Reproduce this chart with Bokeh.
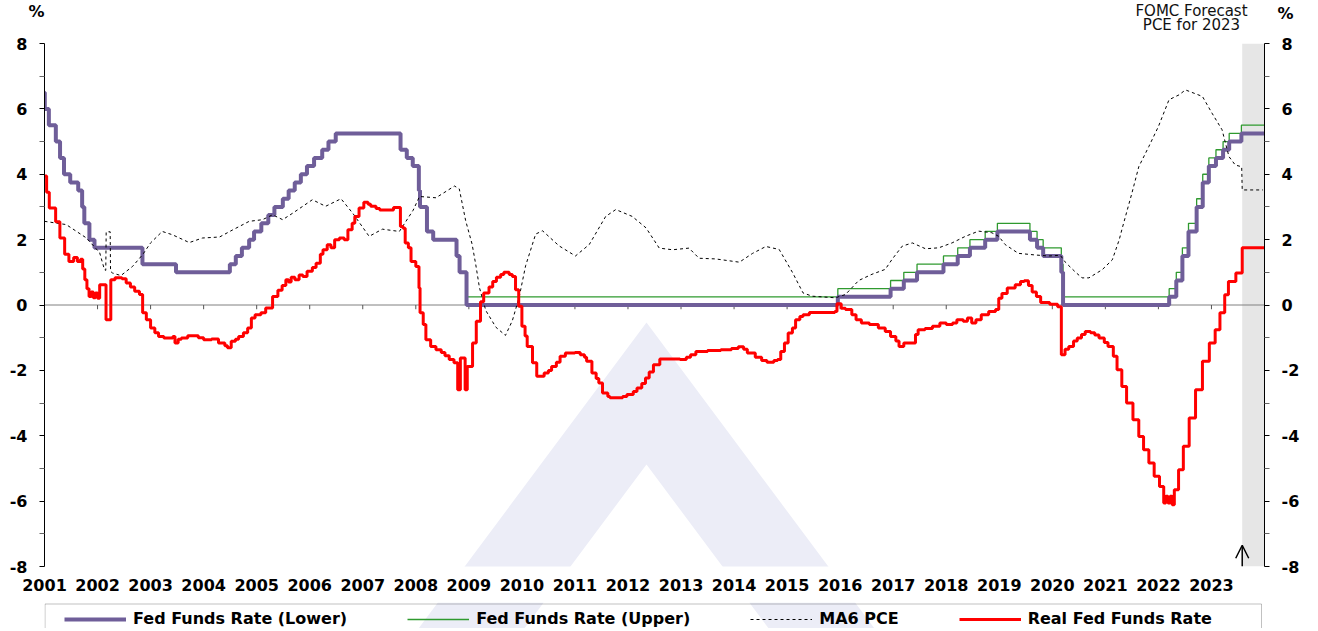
import pandas as pd
from bokeh.plotting import figure
from bokeh.layouts import column
from bokeh.models import (Range1d, FixedTicker, LinearAxis, Legend, LegendItem, Span,
                          BoxAnnotation, PolyAnnotation, Label, Arrow, OpenHead)
from bokeh.embed import file_html
from bokeh.resources import INLINE

# ---------------- data ----------------
FFR_DATES = ["2001-01-01", "2001-01-03", "2001-01-31", "2001-03-20", "2001-04-18", "2001-05-15",
             "2001-06-27", "2001-08-21", "2001-09-17", "2001-10-02", "2001-11-06", "2001-12-11",
             "2002-11-06", "2003-06-25", "2004-06-30", "2004-08-10", "2004-09-21", "2004-11-10",
             "2004-12-14", "2005-02-02", "2005-03-22", "2005-05-03", "2005-06-30", "2005-08-09",
             "2005-09-20", "2005-11-01", "2005-12-13", "2006-01-31", "2006-03-28", "2006-05-10",
             "2006-06-29", "2007-09-18", "2007-10-31", "2007-12-11", "2008-01-22", "2008-01-30",
             "2008-03-18", "2008-04-30", "2008-10-08", "2008-10-29", "2008-12-16", "2015-12-16",
             "2016-12-14", "2017-03-15", "2017-06-14", "2017-12-13", "2018-03-21", "2018-06-13",
             "2018-09-26", "2018-12-19", "2019-07-31", "2019-09-18", "2019-10-30", "2020-03-03",
             "2020-03-15", "2022-03-16", "2022-05-04", "2022-06-15", "2022-07-27", "2022-09-21",
             "2022-11-02", "2022-12-14", "2023-02-01", "2023-03-22", "2023-05-03", "2023-07-26"]
FFR_LOWER = [6.5, 6.0, 5.5, 5.0, 4.5, 4.0, 3.75, 3.5, 3.0, 2.5, 2.0, 1.75,
             1.25, 1.0, 1.25, 1.5, 1.75, 2.0, 2.25, 2.5, 2.75, 3.0, 3.25, 3.5,
             3.75, 4.0, 4.25, 4.5, 4.75, 5.0, 5.25, 4.75, 4.5, 4.25, 3.5, 3.0,
             2.25, 2.0, 1.5, 1.0, 0.0, 0.25, 0.5, 0.75, 1.0, 1.25, 1.5, 1.75,
             2.0, 2.25, 2.0, 1.75, 1.5, 1.0, 0.0, 0.25, 0.75, 1.5, 2.25, 3.0,
             3.75, 4.25, 4.5, 4.75, 5.0, 5.25]
FFR_UPPER = [6.5, 6.0, 5.5, 5.0, 4.5, 4.0, 3.75, 3.5, 3.0, 2.5, 2.0, 1.75,
             1.25, 1.0, 1.25, 1.5, 1.75, 2.0, 2.25, 2.5, 2.75, 3.0, 3.25, 3.5,
             3.75, 4.0, 4.25, 4.5, 4.75, 5.0, 5.25, 4.75, 4.5, 4.25, 3.5, 3.0,
             2.25, 2.0, 1.5, 1.0, 0.25, 0.5, 0.75, 1.0, 1.25, 1.5, 1.75, 2.0,
             2.25, 2.5, 2.25, 2.0, 1.75, 1.25, 0.25, 0.5, 1.0, 1.75, 2.5, 3.25,
             4.0, 4.5, 4.75, 5.0, 5.25, 5.5]

PCE_X = [2001.00, 2001.41, 2001.79, 2002.04, 2002.13, 2002.155, 2002.163, 2002.238, 2002.245,
         2002.28, 2002.44, 2002.66, 2002.85, 2003.00, 2003.22, 2003.41, 2003.73, 2003.98,
         2004.30, 2004.55, 2004.86, 2005.11, 2005.30, 2005.49, 2005.68, 2006.05, 2006.30,
         2006.59, 2006.81, 2007.12, 2007.37, 2007.69, 2007.95, 2008.07, 2008.38, 2008.73,
         2008.82, 2008.94, 2009.06, 2009.13, 2009.20, 2009.32, 2009.51, 2009.69, 2009.82,
         2009.95, 2010.07, 2010.26, 2010.39, 2010.70, 2011.01, 2011.27, 2011.58, 2011.77,
         2012.08, 2012.34, 2012.59, 2012.84, 2013.15, 2013.34, 2013.65, 2014.10, 2014.35,
         2014.60, 2014.85, 2015.10, 2015.30, 2015.47, 2015.91, 2016.10, 2016.35, 2016.60,
         2016.85, 2016.98, 2017.17, 2017.36, 2017.61, 2017.86, 2018.11, 2018.36, 2018.61,
         2018.86, 2018.99, 2019.11, 2019.36, 2019.68, 2019.93, 2020.15, 2020.25, 2020.44,
         2020.56, 2020.69, 2020.94, 2021.13, 2021.26, 2021.31, 2021.50, 2021.63, 2021.82,
         2022.00, 2022.20, 2022.39, 2022.51, 2022.83, 2023.01, 2023.20, 2023.33, 2023.45,
         2023.57, 2023.58, 2023.97]
PCE_V = [2.56, 2.46, 2.05, 1.60, 1.08, 1.06, 2.24, 2.24, 1.03,
         0.98, 0.90, 1.18, 1.54, 1.90, 2.25, 2.15, 1.91, 2.05,
         2.08, 2.30, 2.56, 2.61, 2.76, 2.61, 2.81, 3.22, 3.02,
         3.25, 2.81, 2.10, 2.32, 2.25, 2.90, 3.32, 3.28, 3.64,
         3.55, 2.58, 1.87, 1.24, 0.53, -0.17, -0.68, -0.93, -0.48,
         0.25, 1.20, 2.17, 2.27, 1.81, 1.50, 1.85, 2.71, 2.92,
         2.71, 2.36, 1.74, 1.69, 1.74, 1.43, 1.41, 1.31, 1.58,
         1.79, 1.70, 1.00, 0.37, 0.27, 0.22, 0.32, 0.75, 0.94,
         1.09, 1.40, 1.80, 1.90, 1.72, 1.75, 1.90, 2.10, 2.26,
         2.21, 2.10, 1.85, 1.58, 1.53, 1.50, 1.52, 1.30, 1.00,
         0.83, 0.83, 1.08, 1.38, 1.99, 2.30, 3.42, 4.23, 4.85,
         5.46, 6.28, 6.43, 6.58, 6.38, 5.87, 5.36, 4.54, 4.28,
         4.23, 3.52, 3.52]

REAL_X = [2001.00, 2001.04, 2001.09, 2001.21, 2001.29, 2001.38, 2001.46, 2001.55, 2001.62, 2001.68,
          2001.72, 2001.76, 2001.80, 2001.84, 2001.88, 2001.92, 2001.96, 2002.00, 2002.04, 2002.16,
          2002.25, 2002.33, 2002.46, 2002.54, 2002.62, 2002.70, 2002.79, 2002.85, 2002.92, 2003.00,
          2003.08, 2003.15, 2003.25, 2003.42, 2003.46, 2003.52, 2003.58, 2003.70, 2003.90, 2004.00,
          2004.15, 2004.28, 2004.40, 2004.45, 2004.52, 2004.60, 2004.66, 2004.75, 2004.83, 2004.90,
          2004.97, 2005.08, 2005.17, 2005.30, 2005.40, 2005.48, 2005.55, 2005.60, 2005.65, 2005.72,
          2005.80, 2005.87, 2005.95, 2006.05, 2006.12, 2006.20, 2006.25, 2006.33, 2006.40, 2006.47,
          2006.56, 2006.65, 2006.72, 2006.80, 2006.85, 2006.93, 2007.02, 2007.10, 2007.15, 2007.25,
          2007.32, 2007.58, 2007.71, 2007.76, 2007.80, 2007.86, 2007.91, 2008.00, 2008.06, 2008.08,
          2008.14, 2008.19, 2008.28, 2008.38, 2008.48, 2008.55, 2008.63, 2008.72, 2008.79, 2008.84,
          2008.93, 2008.97, 2009.07, 2009.14, 2009.22, 2009.28, 2009.38, 2009.45, 2009.52, 2009.60,
          2009.66, 2009.76, 2009.82, 2009.88, 2009.94, 2010.00, 2010.06, 2010.10, 2010.20, 2010.28,
          2010.42, 2010.50, 2010.56, 2010.65, 2010.72, 2010.82, 2011.00, 2011.10, 2011.18, 2011.22,
          2011.32, 2011.40, 2011.45, 2011.52, 2011.62, 2011.66, 2011.90, 2011.98, 2012.10, 2012.17,
          2012.26, 2012.33, 2012.40, 2012.48, 2012.60, 2012.98, 2013.10, 2013.18, 2013.28, 2013.50,
          2013.75, 2013.95, 2014.08, 2014.18, 2014.25, 2014.40, 2014.52, 2014.62, 2014.75, 2014.82,
          2014.88, 2014.95, 2015.02, 2015.10, 2015.16, 2015.24, 2015.30, 2015.42, 2015.90, 2015.94,
          2016.02, 2016.10, 2016.22, 2016.30, 2016.40, 2016.55, 2016.72, 2016.85, 2016.95, 2017.05,
          2017.11, 2017.20, 2017.42, 2017.47, 2017.60, 2017.74, 2017.88, 2018.00, 2018.12, 2018.20,
          2018.32, 2018.40, 2018.48, 2018.56, 2018.66, 2018.80, 2018.93, 2018.99, 2019.05, 2019.15,
          2019.30, 2019.40, 2019.47, 2019.55, 2019.62, 2019.70, 2019.78, 2019.95, 2020.10, 2020.17,
          2020.24, 2020.31, 2020.40, 2020.47, 2020.55, 2020.62, 2020.72, 2020.80, 2020.88, 2020.98,
          2021.05, 2021.15, 2021.22, 2021.31, 2021.40, 2021.52, 2021.63, 2021.72, 2021.82, 2021.92,
          2022.02, 2022.10, 2022.14, 2022.18, 2022.22, 2022.26, 2022.30, 2022.38, 2022.47, 2022.58,
          2022.70, 2022.83, 2022.96, 2023.07, 2023.16, 2023.25, 2023.32, 2023.46, 2023.58]
REAL_V = [3.95, 3.45, 2.97, 2.55, 2.05, 1.55, 1.33, 1.45, 1.33, 1.40,
          1.10, 0.77, 0.50, 0.26, 0.40, 0.22, 0.37, 0.21, 0.62, -0.45,
          0.77, 0.83, 0.80, 0.67, 0.55, 0.42, 0.32, -0.24, -0.45, -0.70,
          -0.85, -0.96, -1.01, -0.96, -1.16, -1.05, -1.01, -0.94, -1.00, -1.06,
          -1.04, -1.16, -1.25, -1.31, -1.11, -1.05, -0.96, -0.85, -0.70, -0.40,
          -0.30, -0.24, -0.09, 0.26, 0.45, 0.60, 0.77, 0.70, 0.85, 0.77,
          0.92, 0.87, 1.03, 1.15, 1.28, 1.55, 1.69, 1.84, 1.75, 2.00,
          2.05, 2.00, 2.30, 2.50, 2.71, 2.97, 3.14, 3.08, 3.02, 2.95,
          2.91, 2.98, 2.40, 2.35, 1.90, 1.75, 1.33, 1.18, 0.52, -0.24,
          -0.60, -1.06, -1.27, -1.37, -1.45, -1.55, -1.67, -1.77, -2.59, -1.62,
          -2.59, -1.88, -1.16, -0.50, 0.10, 0.37, 0.55, 0.72, 0.85, 0.93,
          1.00, 0.93, 0.87, 0.47, -0.04, -0.65, -0.95, -1.27, -1.77, -2.18,
          -2.08, -2.00, -1.88, -1.75, -1.57, -1.47, -1.45, -1.52, -1.60, -1.72,
          -2.08, -2.25, -2.39, -2.69, -2.80, -2.84, -2.80, -2.74, -2.65, -2.54,
          -2.40, -2.23, -2.05, -1.83, -1.65, -1.67, -1.60, -1.52, -1.42, -1.39,
          -1.37, -1.33, -1.28, -1.35, -1.47, -1.60, -1.70, -1.75, -1.70, -1.67,
          -1.42, -1.16, -0.86, -0.70, -0.45, -0.35, -0.30, -0.23, -0.20, 0.04,
          -0.10, -0.14, -0.30, -0.45, -0.55, -0.60, -0.70, -0.81, -0.96, -1.10,
          -1.27, -1.16, -0.90, -0.76, -0.72, -0.65, -0.55, -0.60, -0.55, -0.45,
          -0.50, -0.40, -0.55, -0.45, -0.30, -0.20, -0.14, 0.21, 0.35, 0.52,
          0.62, 0.72, 0.74, 0.60, 0.40, 0.26, 0.08, 0.02, -0.05, -1.52,
          -1.35, -1.27, -1.10, -1.01, -0.90, -0.81, -0.85, -0.92, -1.01, -1.15,
          -1.27, -1.57, -1.98, -2.49, -3.00, -3.51, -4.02, -4.43, -4.83, -5.24,
          -5.55, -6.06, -5.85, -6.06, -5.85, -6.11, -5.65, -5.04, -4.32, -3.46,
          -2.59, -1.72, -1.16, -0.76, -0.24, 0.31, 0.72, 0.98, 1.75]

YEARS = list(range(2001, 2024))
YEAR_LABELS = [str(y) for y in YEARS]
Y_TICKS = [-8, -6, -4, -2, 0, 2, 4, 6, 8]
Y_MINOR = [-7, -5, -3, -1, 1, 3, 5, 7]
X_START, X_END = 2001.0, 2024.0
FORECAST_START = 2023.58
LEGEND_LABELS = ["Fed Funds Rate (Lower)", "Fed Funds Rate (Upper)", "MA6 PCE", "Real Fed Funds Rate"]
UNIT_TEXT = "%"
FORECAST_TEXT = ["FOMC Forecast", "PCE for 2023"]

# ---------------- styles ----------------
PURPLE = "#6F5E99"
GREEN = "#2F9A2F"
RED = "#FF0000"
WATERMARK = "#ECEDF7"
FONT = "DejaVu Sans"
W = 1309
BL, BR = 44, 45          # left / right borders shared by all rows (frame spans page x 45..1265)
NAN = float("nan")


def dec_year(s):
    t = pd.Timestamp(s)
    a = pd.Timestamp(year=t.year, month=1, day=1)
    b = pd.Timestamp(year=t.year + 1, month=1, day=1)
    return t.year + (t - a) / (b - a)


def strip(height, y_top, y_bottom):
    """Frame-only row whose data units are page pixels."""
    f = figure(width=W, height=height, x_range=Range1d(1 + BL, 1 + W - BR),
               y_range=Range1d(y_bottom, y_top), x_axis_type=None, y_axis_type=None, title=None,
               output_backend="svg", toolbar_location=None,
               min_border_left=BL, min_border_right=BR, min_border_top=0, min_border_bottom=0)
    f.outline_line_color = None
    f.background_fill_color = "white"
    f.border_fill_color = "white"
    return f


def unit_axis(tick_y, standoff):
    ax = LinearAxis(ticker=FixedTicker(ticks=[tick_y]), major_label_overrides={tick_y: UNIT_TEXT})
    ax.axis_line_color = None
    ax.major_tick_line_color = None
    ax.minor_tick_line_color = None
    ax.major_tick_out = 0
    ax.major_tick_in = 0
    ax.major_label_standoff = standoff
    ax.major_label_text_font = FONT
    ax.major_label_text_font_style = "bold"
    ax.major_label_text_font_size = "16px"
    ax.major_label_text_color = "black"
    return ax


ffr_x = [dec_year(d) for d in FFR_DATES] + [X_END]
lower_y = FFR_LOWER + [FFR_LOWER[-1]]
upper_y = FFR_UPPER + [FFR_UPPER[-1]]
real_x = REAL_X + [X_END]
real_y = REAL_V + [REAL_V[-1]]

# ---------------- header row (page y 1..34) ----------------
head = strip(33, 1, 34)
head.add_layout(unit_axis(12, 0), "left")
head.add_layout(unit_axis(14, 13), "right")
head.add_layout(Label(x=1192, y=11.0, text=FORECAST_TEXT[0], text_align="center", text_baseline="middle",
                      text_font=FONT, text_font_size="15px", text_color="#111111"))
head.add_layout(Label(x=1192, y=25.3, text=FORECAST_TEXT[1], text_align="center", text_baseline="middle",
                      text_font=FONT, text_font_size="15px", text_color="#111111"))

# ---------------- main chart (frame page y 44..567) ----------------
p = figure(width=W, height=569, x_range=Range1d(X_START, X_END), y_range=Range1d(-8, 8),
           title=None, output_backend="svg", toolbar_location=None,
           min_border_left=BL, min_border_right=BR, min_border_top=10, min_border_bottom=36)
p.xgrid.visible = False
p.ygrid.visible = False
p.outline_line_color = None
p.background_fill_color = "white"
p.border_fill_color = "white"

# watermark chevron (decoration)
p.add_layout(PolyAnnotation(xs=[2008.023, 2012.349, 2016.676, 2014.681, 2012.349, 2010.017],
                            ys=[-9.957, -0.535, -9.957, -9.957, -4.879, -9.957],
                            fill_color=WATERMARK, fill_alpha=1.0, line_color=None, level="underlay"))

p.add_layout(BoxAnnotation(left=FORECAST_START, right=X_END, fill_color="#E6E6E6", fill_alpha=1.0,
                           line_color=None, level="underlay"))
p.add_layout(Span(location=0, dimension="width", line_color="#808080", line_width=1, level="underlay"))

# year ticks on the zero line
p.segment(x0=YEARS, y0=0, x1=YEARS, y1=-0.13, line_color="#555555", line_width=1)

r_upper = p.step(ffr_x, upper_y, mode="after", line_color=GREEN, line_width=1.3)
r_lower = p.step(ffr_x, lower_y, mode="after", line_color=PURPLE, line_width=4)
r_pce = p.line(PCE_X, PCE_V, line_color="black", line_width=1, line_dash="3 3")
r_real = p.step(real_x, real_y, mode="after", line_color=RED, line_width=3)

xa = p.xaxis[0]
xa.ticker = FixedTicker(ticks=YEARS)
xa.major_label_overrides = {y: lab for y, lab in zip(YEARS, YEAR_LABELS)}
xa.axis_line_color = None
xa.major_tick_line_color = None
xa.minor_tick_line_color = None
xa.major_tick_out = 0
xa.major_tick_in = 0
xa.major_label_standoff = 12
xa.major_label_text_font = FONT
xa.major_label_text_font_style = "bold"
xa.major_label_text_font_size = "16px"
xa.major_label_text_color = "black"

ra = LinearAxis()
p.add_layout(ra, "right")
for ax in [p.yaxis[0], ra]:
    ax.ticker = FixedTicker(ticks=Y_TICKS, minor_ticks=Y_MINOR)
    ax.major_label_overrides = {v: str(v) for v in Y_TICKS}
    ax.axis_line_color = "black"
    ax.axis_line_width = 1
    ax.major_tick_line_color = "black"
    ax.minor_tick_line_color = "#666666"
    ax.major_tick_out = 5
    ax.major_tick_in = 0
    ax.minor_tick_out = 5
    ax.minor_tick_in = 0
    ax.major_label_standoff = 12
    ax.major_label_text_font = FONT
    ax.major_label_text_font_style = "bold"
    ax.major_label_text_font_size = "16px"
    ax.major_label_text_color = "black"

p.add_layout(Arrow(end=OpenHead(size=13, line_width=1.5, line_color="black"),
                   x_start=FORECAST_START, y_start=-8, x_end=FORECAST_START, y_end=-7.35,
                   line_width=1.5, line_color="black"))

# ---------------- legend row (page y 603..629) ----------------
leg = strip(26, 603, 629)
leg.add_layout(PolyAnnotation(xs=[438.4, 544.2, 524.8, 419.0], ys=[603, 603, 629, 629],
                              fill_color=WATERMARK, fill_alpha=1.0, line_color=None, level="underlay"))
leg.add_layout(PolyAnnotation(xs=[749.8, 855.6, 875.0, 769.2], ys=[603, 603, 629, 629],
                              fill_color=WATERMARK, fill_alpha=1.0, line_color=None, level="underlay"))
leg.add_layout(BoxAnnotation(left=45.5, right=1262, top=604.5, bottom=640, fill_alpha=0.0,
                             line_color="#333333", line_width=1))
k_lower = leg.line(x=[NAN], y=[NAN], line_color=PURPLE, line_width=4)
k_upper = leg.line(x=[NAN], y=[NAN], line_color=GREEN, line_width=1.6)
k_pce = leg.line(x=[NAN], y=[NAN], line_color="black", line_width=1, line_dash="3 3")
k_real = leg.line(x=[NAN], y=[NAN], line_color=RED, line_width=3)
legend = Legend(items=[LegendItem(label=LEGEND_LABELS[0], renderers=[k_lower]),
                       LegendItem(label=LEGEND_LABELS[1], renderers=[k_upper]),
                       LegendItem(label=LEGEND_LABELS[2], renderers=[k_pce]),
                       LegendItem(label=LEGEND_LABELS[3], renderers=[k_real])],
                orientation="horizontal", location=(20, 0))
legend.label_text_font = FONT
legend.label_text_font_style = "bold"
legend.label_text_font_size = "16px"
legend.label_text_color = "black"
legend.glyph_width = 62
legend.glyph_height = 16
legend.label_height = 16
legend.label_standoff = 7
legend.spacing = 60
legend.margin = 0
legend.padding = 3
legend.border_line_color = None
legend.background_fill_alpha = 0.0
leg.add_layout(legend)

page = column(head, p, leg, spacing=0)
open("out.html", "w").write(file_html(page, INLINE))
